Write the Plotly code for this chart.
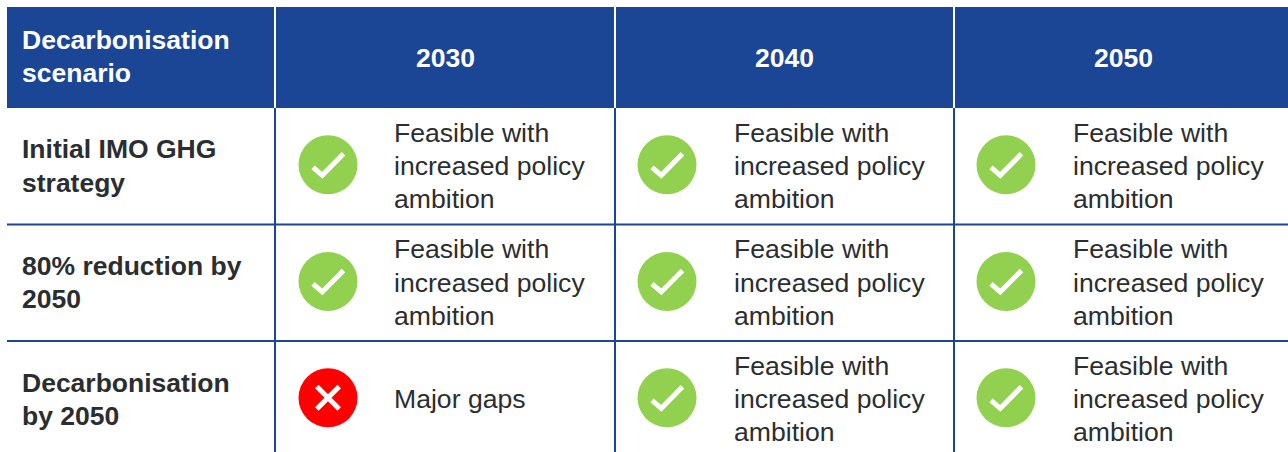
import plotly.graph_objects as go

# ---- table content ----
corner_lines = ["Decarbonisation", "scenario"]
years = ["2030", "2040", "2050"]
scenarios = [["Initial IMO GHG", "strategy"],
             ["80% reduction by", "2050"],
             ["Decarbonisation", "by 2050"]]
feasible_text = ["Feasible with", "increased policy", "ambition"]
gap_text = ["Major gaps"]
status = [[1, 1, 1],
          [1, 1, 1],
          [0, 1, 1]]

# ---- styles and grid ----
W, H = 1288, 452
BLUE, WHITE, INK = "#1B4595", "#FFFFFF", "#2B2E30"
GREEN, RED = "#92D050", "#FF0000"
FONT = "Liberation Sans"
SIZE = 26.6
BOLD_SIZE = 26.5
LEAD = 33.2
left, top, head_bottom = 7, 7, 108
col_edges = [275, 615, 954]
col_start = 275
col_step = 339
text_step = 339.5
row_edges = [224.5, 341]
row_mid = [166, 282.6, 399]
label_mid = [166, 282.6, 399.5]
head_mid = 56.5
label_x = 22
icon_dx, text_dx, year_dx = 53, 119, 170
R_SIZE = 59
CHECK = [(-15, 2.5), (-5.7, 10.5), (15.5, -11)]
CROSS = 11.2

fig = go.Figure()
shapes, notes = [], []

def text(x, y, s, color=INK, bold=False, anchor="left"):
    notes.append(dict(x=x, y=y, text=f"<b>{s}</b>" if bold else s, showarrow=False,
                      xanchor=anchor, yanchor="middle", xref="x", yref="y",
                      font=dict(family=FONT, size=BOLD_SIZE if bold else SIZE, color=color),
                      borderpad=0, borderwidth=0))

def block(x, mid, lines, **kw):
    n = len(lines)
    for i, s in enumerate(lines):
        text(x, mid + (i - (n - 1) / 2) * LEAD, s, **kw)

# header band
shapes.append(dict(type="rect", x0=left, x1=W, y0=top, y1=head_bottom,
                   fillcolor=BLUE, line_width=0, layer="below"))
# separators
for xe in col_edges:
    shapes.append(dict(type="line", x0=xe, x1=xe, y0=top, y1=head_bottom,
                       line=dict(color=WHITE, width=2)))
    shapes.append(dict(type="line", x0=xe, x1=xe, y0=head_bottom, y1=H,
                       line=dict(color=BLUE, width=2)))
for ye in row_edges:
    shapes.append(dict(type="line", x0=left, x1=W, y0=ye, y1=ye,
                       line=dict(color=BLUE, width=2)))

# header text
block(label_x, head_mid, corner_lines, color=WHITE, bold=True)
for j, y in enumerate(years):
    text(col_start + j * col_step + year_dx, head_mid + 1, y,
         color=WHITE, bold=True, anchor="center")

# body
cx, cy, colors = [], [], []
for i, row in enumerate(status):
    block(label_x, label_mid[i], scenarios[i], bold=True)
    for j, ok in enumerate(row):
        x0 = col_start + j * col_step
        ix, iy = x0 + icon_dx, row_mid[i] - 1.2
        cx.append(ix); cy.append(iy); colors.append(GREEN if ok else RED)
        block(col_start + j * text_step + text_dx, row_mid[i],
              feasible_text if ok else gap_text)
        if ok:
            path = "M" + " L".join(f"{ix+a},{iy+b}" for a, b in CHECK)
            shapes.append(dict(type="path", path=path, layer="above",
                               line=dict(color=WHITE, width=5)))
        else:
            for s in (1, -1):
                shapes.append(dict(type="line", layer="above",
                                   x0=ix - CROSS, x1=ix + CROSS,
                                   y0=iy - s * CROSS, y1=iy + s * CROSS,
                                   line=dict(color=WHITE, width=5)))

fig.add_trace(go.Scatter(x=cx, y=cy, mode="markers", hoverinfo="skip",
                         marker=dict(size=R_SIZE, color=colors, line_width=0)))

fig.update_layout(width=W, height=H, margin=dict(l=0, r=0, t=0, b=0),
                  autosize=False, showlegend=False,
                  paper_bgcolor=WHITE, plot_bgcolor=WHITE,
                  shapes=shapes, annotations=notes,
                  xaxis=dict(range=[0, W], visible=False, fixedrange=True),
                  yaxis=dict(range=[H, 0], visible=False, fixedrange=True))
fig.write_html("out.html", config=dict(displayModeBar=False),
               default_width=f"{W}px", default_height=f"{H}px",
               post_script="document.body.style.margin='0';")
